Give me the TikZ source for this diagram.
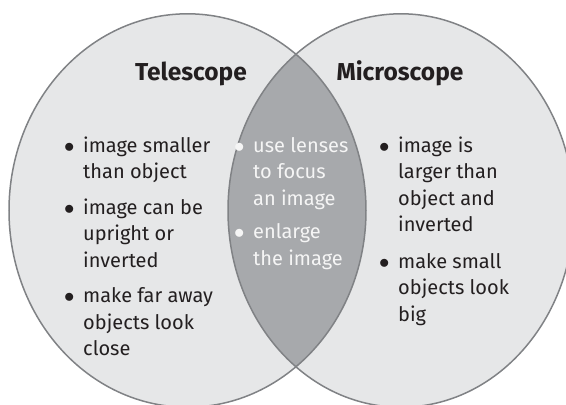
\documentclass[tikz,border=0pt]{standalone}
\usepackage{fontspec}
\setmainfont{Fira Sans}
\definecolor{lightfill}{HTML}{E6E7E8}
\definecolor{darkfill}{HTML}{A7A9AC}
\definecolor{edge}{HTML}{808285}
\definecolor{ink}{HTML}{231F20}
\definecolor{paleink}{HTML}{F5F5F5}
\newcommand{\bul}{\makebox[17pt][l]{\hspace{-2pt}$\bullet$}}
\newcommand{\cont}{\makebox[17pt][l]{}}
\begin{document}
\begin{tikzpicture}[x=1pt,y=-1pt,
  venn/.style={draw=edge,line width=1.5pt},
  vtitle/.style={font=\fontsize{24.5}{30}\selectfont\bfseries, text=ink, inner sep=0, anchor=base},
  listbox/.style={font=\fontsize{20}{26.5}\selectfont, inner sep=0, anchor=base west}]
\clip (0,0) rectangle (566,405);
\coordinate (cl) at (187.5,210.5);
\coordinate (cr) at (401,210.5);
\tikzset{lshape/.style={x radius=178.5, y radius=196.7}, rshape/.style={x radius=173, y radius=196.7}}
% fills
\fill[lightfill] (cl) ellipse [lshape];
\fill[lightfill] (cr) ellipse [rshape];
\begin{scope}
  \clip (cl) ellipse [lshape];
  \fill[darkfill] (cr) ellipse [rshape];
\end{scope}
% outlines
\draw[venn] (cl) ellipse [lshape];
\draw[venn] (cr) ellipse [rshape];
% titles
\node[vtitle] (tt) at (191,80) {Telescope};
\node[vtitle] (mt) at (400,80) {Microscope};
% lists
\node[listbox,text=ink] (tl) at (66,152) {\begin{tabular}[t]{@{}l@{}}
\bul image smaller\\
\cont than object\\[9pt]
\bul image can be\\
\cont upright or\\
\cont inverted\\[9pt]
\bul make far away\\
\cont objects look\\
\cont close
\end{tabular}};
\node[listbox,text=paleink] (ml) at (236,152) {\begin{tabular}[t]{@{}l@{}}
\bul use lenses\\
\cont to focus\\
\cont an image\\[7pt]
\bul enlarge\\
\cont the image
\end{tabular}};
\node[listbox,text=ink] (rl) at (381,152) {\begin{tabular}[t]{@{}l@{}}
\bul image is\\
\cont larger than\\
\cont object and\\
\cont inverted\\[10pt]
\bul make small\\
\cont objects look\\
\cont big
\end{tabular}};
\end{tikzpicture}
\end{document}
